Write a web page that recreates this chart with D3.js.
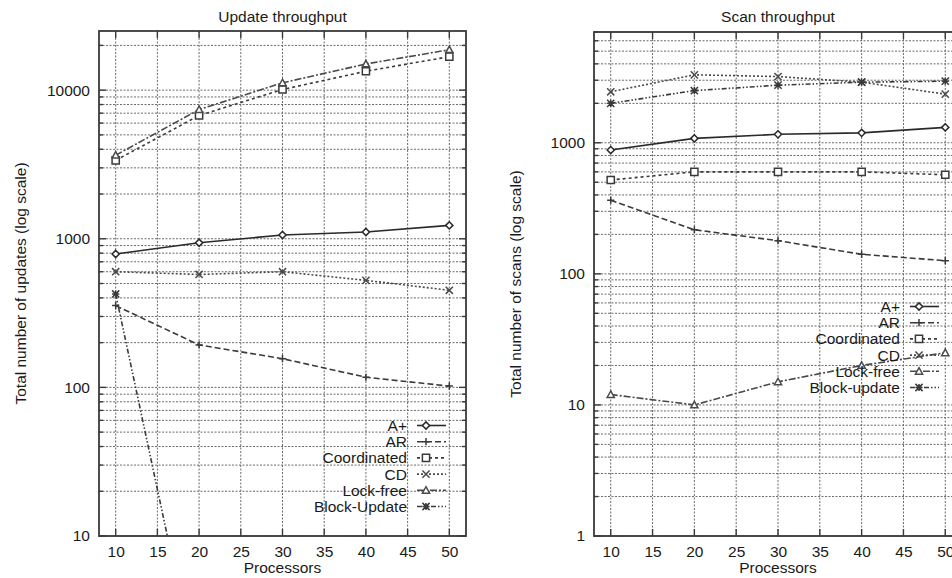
<!DOCTYPE html>
<html>
<head>
<meta charset="utf-8">
<script src="https://cdn.jsdelivr.net/npm/d3@7"></script>
<style>
  body { margin: 0; background: #fff; }
  text { font-family: "Liberation Sans", Arial, sans-serif; font-size: 15.5px; fill: #1a1a1a; }
</style>
</head>
<body>
<div class="view"></div>
<script>
var width = 952;
var height = 578;

// x values (processors) and x tick labels
var procs = [10, 20, 30, 40, 50];
var xTicks = [10, 15, 20, 25, 30, 35, 40, 45, 50];

// update throughput
var updNames = ["A+", "AR", "Coordinated", "CD", "Lock-free", "Block-Update"];
var updAplus = [790, 940, 1060, 1110, 1230];
var updAR = [355, 193, 156, 117, 102];
var updCoord = [3370, 6750, 10100, 13400, 16800];
var updCD = [600, 575, 600, 525, 450];
var updLockfree = [3650, 7400, 11200, 15000, 18700];
var updBlock = [425, 1, 1, 1, 1];
var updYTicks = [10, 100, 1000, 10000];

// scan throughput
var scanNames = ["A+", "AR", "Coordinated", "CD", "Lock-free", "Block-update"];
var scanAplus = [880, 1080, 1160, 1190, 1310];
var scanAR = [365, 217, 179, 141, 126];
var scanCoord = [520, 600, 600, 600, 570];
var scanCD = [2450, 3300, 3200, 2900, 2350];
var scanLockfree = [12, 10, 15, 20, 25];
var scanBlock = [2000, 2500, 2750, 2900, 2950];
var scanYTicks = [1, 10, 100, 1000];

// line / marker styles, one per series (same order in both panels)
var dashes = ["none", "6,3", "3,3", "2,2", "7,2,2,2", "5,2,1.5,2,1.5,2"];
var markers = ["diamond", "plus", "square", "cross", "triangle", "star"];
var strokes = ["#2a2a2a", "#3a3a3a", "#3a3a3a", "#4a4a4a", "#4a4a4a", "#3a3a3a"];

var svg = d3.select(".view")
    .append("svg")
    .attr("width", width)
    .attr("height", height);

function marker(g, type, cx, cy, col) {
    var s = 3.6;
    var p;
    if (type == "diamond") {
        p = "M" + (cx - s) + "," + cy + "L" + cx + "," + (cy - s) + "L" + (cx + s) + "," + cy + "L" + cx + "," + (cy + s) + "Z";
    } else if (type == "plus") {
        p = "M" + (cx - s) + "," + cy + "H" + (cx + s) + "M" + cx + "," + (cy - s) + "V" + (cy + s);
    } else if (type == "square") {
        p = "M" + (cx - s) + "," + (cy - s) + "h" + 2 * s + "v" + 2 * s + "h" + (-2 * s) + "Z";
    } else if (type == "cross") {
        p = "M" + (cx - s) + "," + (cy - s) + "L" + (cx + s) + "," + (cy + s) + "M" + (cx - s) + "," + (cy + s) + "L" + (cx + s) + "," + (cy - s);
    } else if (type == "triangle") {
        p = "M" + cx + "," + (cy - s) + "L" + (cx + s) + "," + (cy + s * 0.8) + "L" + (cx - s) + "," + (cy + s * 0.8) + "Z";
    } else {
        p = "M" + (cx - s) + "," + cy + "H" + (cx + s) + "M" + cx + "," + (cy - s) + "V" + (cy + s) +
            "M" + (cx - s) + "," + (cy - s) + "L" + (cx + s) + "," + (cy + s) + "M" + (cx - s) + "," + (cy + s) + "L" + (cx + s) + "," + (cy - s);
    }
    g.append("path")
        .attr("d", p)
        .attr("fill", type == "diamond" || type == "square" || type == "triangle" ? "#fff" : "none")
        .attr("stroke", col)
        .attr("stroke-width", 1.5);
}

function drawPanel(o) {
    var x = d3.scaleLinear().domain([8, 52]).range([o.left, o.right]);
    var y = d3.scaleLog().domain(o.yDomain).range([o.bottom, o.top]);

    var allY = y.ticks().filter(function (d) { return d <= o.yDomain[1]; });
    var g = svg.append("g");

    // title
    g.append("text")
        .attr("x", (o.left + o.right) / 2)
        .attr("y", 17)
        .attr("dy", "0.35em")
        .attr("text-anchor", "middle")
        .text(o.title);

    // grid
    g.append("g").selectAll("line.h")
        .data(allY).enter().append("line")
        .attr("x1", o.left).attr("x2", o.right)
        .attr("y1", function (d) { return y(d); })
        .attr("y2", function (d) { return y(d); })
        .attr("stroke", "#6a6a6a")
        .attr("stroke-dasharray", "2,1.5");
    g.append("g").selectAll("line.v")
        .data(xTicks).enter().append("line")
        .attr("y1", o.top).attr("y2", o.bottom)
        .attr("x1", function (d) { return x(d); })
        .attr("x2", function (d) { return x(d); })
        .attr("stroke", "#6a6a6a")
        .attr("stroke-dasharray", "2,1.5");

    // tick marks, inward on all four sides
    var ticks = g.append("g").attr("stroke", "#3a3a3a").attr("stroke-width", 1.4);
    allY.forEach(function (d) {
        var len = o.majors.indexOf(d) >= 0 ? 7 : 4;
        ticks.append("line").attr("x1", o.left).attr("x2", o.left + len).attr("y1", y(d)).attr("y2", y(d));
        ticks.append("line").attr("x1", o.right).attr("x2", o.right - len).attr("y1", y(d)).attr("y2", y(d));
    });
    xTicks.forEach(function (d) {
        ticks.append("line").attr("x1", x(d)).attr("x2", x(d)).attr("y1", o.bottom).attr("y2", o.bottom - 7);
        ticks.append("line").attr("x1", x(d)).attr("x2", x(d)).attr("y1", o.top).attr("y2", o.top + 7);
    });

    // axis labels
    var ya = g.append("g")
        .attr("transform", "translate(" + o.left + ",0)")
        .call(d3.axisLeft(y).tickValues(o.majors).tickFormat(d3.format("d")).tickSize(0).tickPadding(9));
    ya.select(".domain").remove();
    ya.selectAll("text").style("font-size", "15.5px").attr("fill", "#1a1a1a");

    var xa = g.append("g")
        .attr("transform", "translate(0," + o.bottom + ")")
        .call(d3.axisBottom(x).tickValues(xTicks).tickSize(0).tickPadding(10));
    xa.select(".domain").remove();
    xa.selectAll("text").style("font-size", "15.5px").attr("fill", "#1a1a1a");

    g.append("text")
        .attr("x", (o.left + o.right) / 2)
        .attr("y", 568)
        .attr("dy", "0.35em")
        .attr("text-anchor", "middle")
        .text("Processors");

    g.append("text")
        .attr("transform", "translate(" + o.ylabelX + "," + (o.top + o.bottom) / 2 + ") rotate(-90)")
        .attr("dy", "0.35em")
        .attr("text-anchor", "middle")
        .text(o.ylabel);

    // series, clipped to plot area
    svg.append("clipPath").attr("id", o.id)
        .append("rect")
        .attr("x", o.left).attr("y", o.top)
        .attr("width", o.right - o.left).attr("height", o.bottom - o.top);

    var line = d3.line()
        .x(function (d, i) { return x(procs[i]); })
        .y(function (d) { return y(d); });

    var plot = g.append("g").attr("clip-path", "url(#" + o.id + ")");
    o.series.forEach(function (vals, k) {
        plot.append("path")
            .attr("d", line(vals))
            .attr("fill", "none")
            .attr("stroke", strokes[k])
            .attr("stroke-width", 1.6)
            .attr("stroke-dasharray", dashes[k]);
        vals.forEach(function (v, i) {
            if (v >= o.yDomain[0]) marker(plot, markers[k], x(procs[i]), y(v), strokes[k]);
        });
    });

    // legend
    var lg = g.append("g");
    o.names.forEach(function (name, k) {
        var ly = o.legY + k * 16.2;
        lg.append("text")
            .attr("x", o.legX)
            .attr("y", ly)
            .attr("dy", "0.35em")
            .attr("text-anchor", "end")
            .text(name);
        lg.append("line")
            .attr("x1", o.legX + 10).attr("x2", o.legX + 39)
            .attr("y1", ly).attr("y2", ly)
            .attr("stroke", strokes[k])
            .attr("stroke-width", 1.6)
            .attr("stroke-dasharray", dashes[k]);
        marker(lg, markers[k], o.legX + 19, ly, strokes[k]);
    });

    // border
    g.append("rect")
        .attr("x", o.left).attr("y", o.top)
        .attr("width", o.right - o.left).attr("height", o.bottom - o.top)
        .attr("fill", "none")
        .attr("stroke", "#3a3a3a")
        .attr("stroke-width", 1.8);
}

drawPanel({
    id: "clipUpd",
    left: 99, right: 466, top: 31, bottom: 536,
    yDomain: [10, 25000],
    majors: updYTicks,
    title: "Update throughput",
    ylabel: "Total number of updates (log scale)",
    ylabelX: 21,
    names: updNames,
    series: [updAplus, updAR, updCoord, updCD, updLockfree, updBlock],
    legX: 407, legY: 425.5
});

drawPanel({
    id: "clipScan",
    left: 594, right: 962, top: 32, bottom: 536,
    yDomain: [1, 7000],
    majors: scanYTicks,
    title: "Scan throughput",
    ylabel: "Total number of scans (log scale)",
    ylabelX: 516,
    names: scanNames,
    series: [scanAplus, scanAR, scanCoord, scanCD, scanLockfree, scanBlock],
    legX: 900, legY: 306.5
});
</script>
</body>
</html>
